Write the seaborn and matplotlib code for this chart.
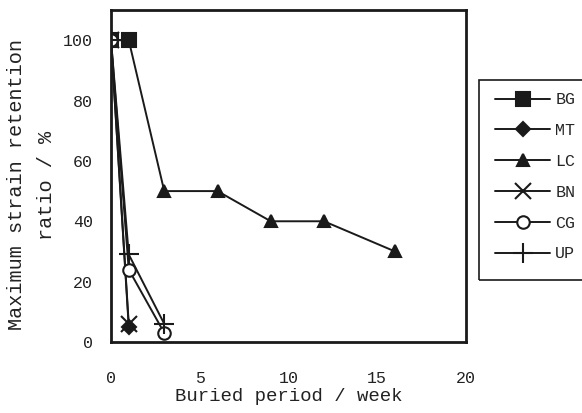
import matplotlib
matplotlib.use("Agg")
import matplotlib.pyplot as plt
from matplotlib.patches import Rectangle
import seaborn as sns
import pandas as pd

sns.set_theme(style="white")
plt.rcParams['font.family'] = ['Liberation Mono', 'DejaVu Sans Mono']

series_names = ["BG", "MT", "LC", "BN", "CG", "UP"]
bg_x = [0, 1]
bg_y = [100, 100]
mt_x = [0, 1]
mt_y = [100, 5]
lc_x = [0, 1, 3, 6, 9, 12, 16]
lc_y = [100, 100, 50, 50, 40, 40, 30]
bn_x = [0, 1]
bn_y = [100, 6]
cg_x = [0, 1, 3]
cg_y = [100, 24, 3]
up_x = [0, 1, 3]
up_y = [100, 29, 6]

xs = [bg_x, mt_x, lc_x, bn_x, cg_x, up_x]
ys = [bg_y, mt_y, lc_y, bn_y, cg_y, up_y]
markers = ["s", "D", "^", "x", "o", "+"]
msizes = [10, 7, 9, 12, 9, 14]
faces = ["#1a1a1a", "#1a1a1a", "#1a1a1a", "#1a1a1a", "white", "#1a1a1a"]

W, H = 582, 413
fig = plt.figure(figsize=(W / 100, H / 100), dpi=100)
ax = fig.add_axes([111 / W, 1 - 342 / H, (466 - 111) / W, (342 - 10) / H])

for name, x, y, m, ms, fc in zip(series_names, xs, ys, markers, msizes, faces):
    df = pd.DataFrame({"x": x, "y": y})
    sns.lineplot(data=df, x="x", y="y", ax=ax, color="#1a1a1a", linewidth=1.4,
                 marker=m, markersize=ms, markerfacecolor=fc,
                 markeredgecolor="#1a1a1a", markeredgewidth=1.5, label=name)

ax.set_xlim(0, 20)
ax.set_ylim(0, 110)
ax.set_xticks([0, 5, 10, 15, 20])
ax.set_yticks([0, 20, 40, 60, 80, 100])
ax.tick_params(direction="in", length=6, width=1.5, colors="#1a1a1a",
               labelsize=12, labelcolor="#222222")
ax.tick_params(axis="x", pad=21)
ax.tick_params(axis="y", pad=13)
for s in ax.spines.values():
    s.set_color("#1a1a1a")
    s.set_linewidth(2)

ax.set_xlabel("Buried period / week", fontsize=13.7, color="#222222", labelpad=1)
ax.set_ylabel("Maximum strain retention\nratio / %", fontsize=14.6, color="#222222",
              linespacing=1.7)
ax.yaxis.set_label_coords(-0.156, 0.473)

# legend box frame
fig.patches.append(Rectangle((479 / W, 1 - 280 / H), 120 / W, 200 / H,
                             transform=fig.transFigure, fill=False,
                             edgecolor="#1a1a1a", linewidth=1.2))

leg = ax.legend(loc="upper left", bbox_to_anchor=(487 / W, 1 - 84 / H),
                bbox_transform=fig.transFigure, borderaxespad=0,
                frameon=False, fontsize=12, labelspacing=0.95,
                handlelength=3.3, borderpad=0.5, handletextpad=0.3)

fig.savefig("out.png", dpi=100)
